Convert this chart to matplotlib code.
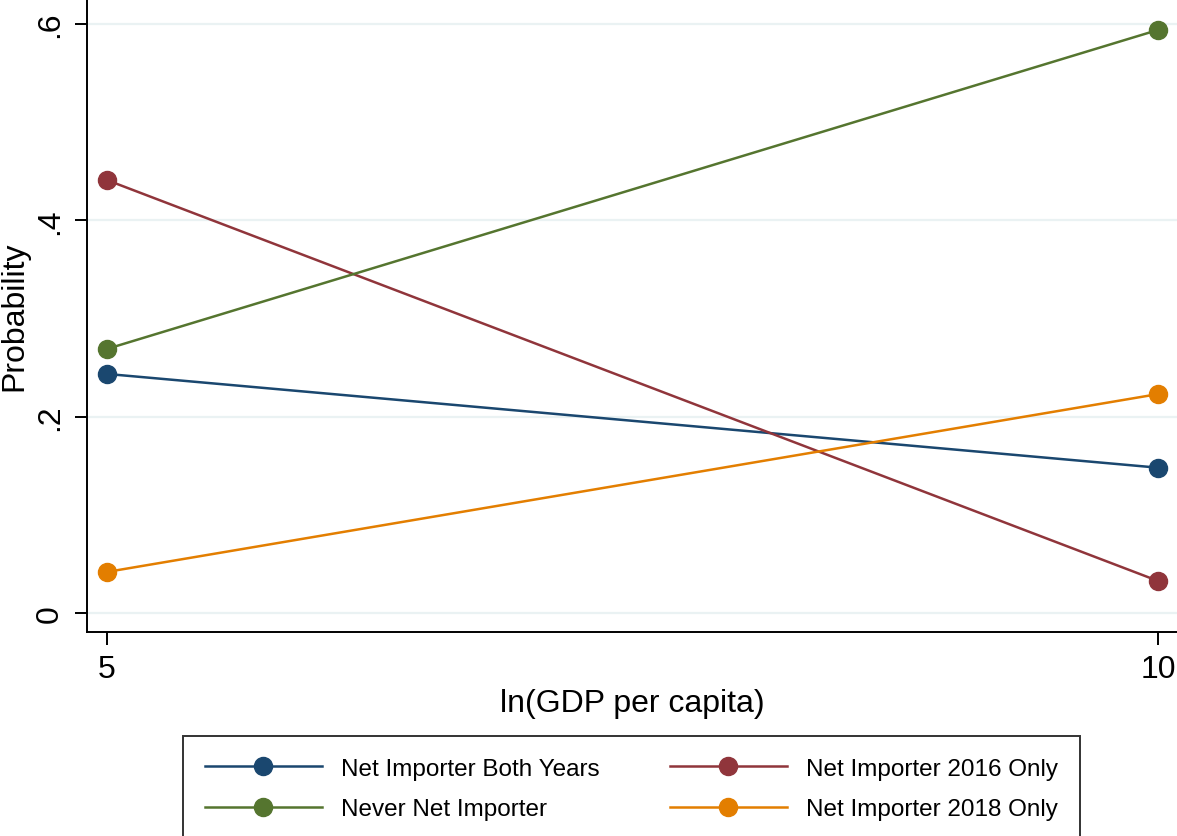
import matplotlib.pyplot as plt

plt.rcParams['font.family'] = ['Liberation Sans', 'DejaVu Sans']

# Predicted probabilities at two values of ln(GDP per capita)
gdp = [5, 10]
both_years = [0.2435, 0.148]
only_2016 = [0.441, 0.0326]
never = [0.269, 0.594]
only_2018 = [0.0418, 0.223]

labels = ['Net Importer Both Years', 'Net Importer 2016 Only',
          'Never Net Importer', 'Net Importer 2018 Only']
colors = ['#1a476f', '#90353b', '#55752f', '#e37e00']
yticks = [0, 0.2, 0.4, 0.6]
yticklabels = ['0', '.2', '.4', '.6']

fig = plt.figure(figsize=(11.77, 8.37), dpi=100)
ax = fig.add_axes([87 / 1177, (837 - 633) / 837, 1 - 87 / 1177, 633 / 837])

series = [both_years, only_2016, never, only_2018]
handles = []
for vals, lab, col in zip(series, labels, colors):
    h, = ax.plot(gdp, vals, color=col, linewidth=1.8, marker='o',
                 markersize=13, label=lab)
    handles.append(h)

ax.set_xlim(4.905, 10.09)
ax.set_ylim(-0.0194, 0.6255)
ax.set_xticks(gdp)
ax.set_xticklabels(['5', '10'], fontsize=23)
ax.set_yticks(yticks)
ax.set_yticklabels(yticklabels, fontsize=23, rotation=90, va='center')
ax.tick_params(length=9, width=1.4, direction='out', pad=7)
ax.grid(axis='y', color='#eaf2f3', linewidth=1.6)
ax.set_axisbelow(True)

for side in ['top', 'right']:
    ax.spines[side].set_visible(False)
for side in ['left', 'bottom']:
    ax.spines[side].set_linewidth(1.4)

ax.set_xlabel('ln(GDP per capita)', fontsize=23, labelpad=3)
ax.set_ylabel('Probability', fontsize=23, labelpad=4)

# two-column legend under the plot, filled row by row
order = [0, 2, 1, 3]
leg = fig.legend([handles[i] for i in order], [labels[i] for i in order],
                 ncol=2, loc='upper left',
                 bbox_to_anchor=(183 / 1177, -0.1, (1080 - 183) / 1177, 0.2195),
                 mode='expand', fontsize=17.5, handlelength=4.8,
                 handletextpad=0.8, frameon=True, fancybox=False,
                 borderpad=0.9, labelspacing=0.75, columnspacing=2.0,
                 borderaxespad=0)
leg.get_frame().set_edgecolor('black')
leg.get_frame().set_linewidth(1.4)

fig.savefig('out.png', dpi=100)
